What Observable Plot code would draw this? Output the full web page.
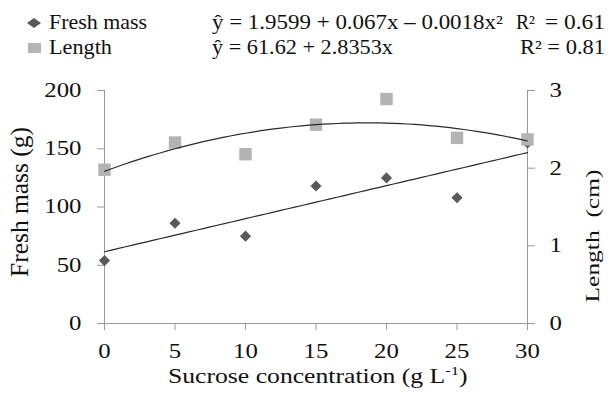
<!DOCTYPE html>
<html>
<head>
<meta charset="utf-8">
<script src="https://cdn.jsdelivr.net/npm/d3@7"></script>
<script src="https://cdn.jsdelivr.net/npm/@observablehq/plot@0.6"></script>
<style>
  html, body { margin: 0; padding: 0; background: #fff; }
  #wrap { position: relative; width: 613px; height: 396px; }
  #legend { position: absolute; left: 0; top: 0; pointer-events: none; }
</style>
</head>
<body>
<div id="wrap"></div>
<script>
// ---- data ----
const concentration = [0, 5, 10, 15, 20, 25, 30];          // g L-1
const freshMass    = [54, 86, 75, 118, 125, 108, 155];      // g  (left axis)
const lengthCm     = [1.98, 2.33, 2.18, 2.56, 2.89, 2.39, 2.37]; // cm (right axis)
const xTicks       = [0, 5, 10, 15, 20, 25, 30];
const leftTicks    = [0, 50, 100, 150, 200];
const rightTicks   = [0, 1, 2, 3];
// trend equations printed in the legend
const linearCoef   = [61.62, 2.8353];            // fresh mass (g)
const quadCoef     = [1.9599, 0.067, -0.0018];   // length (cm)
const legendNames  = ["Fresh mass", "Length"];
const legendEqs    = ["ŷ = 1.9599 + 0.067x – 0.0018x²", "ŷ = 61.62 + 2.8353x"];
const legendR2     = ["0.61", "0.81"];

const FONT = "Liberation Serif";
const cmToG = 200 / 3; // right axis 0..3 cm maps onto left axis 0..200 g

const massRows = concentration.map((c, i) => ({c, v: freshMass[i]}));
const lenRows  = concentration.map((c, i) => ({c, v: lengthCm[i] * cmToG}));
const xs = d3.range(0, 30.001, 0.5);
const linRows  = xs.map(x => ({c: x, v: linearCoef[0] + linearCoef[1] * x}));
const quadRows = xs.map(x => ({c: x, v: (quadCoef[0] + quadCoef[1] * x + quadCoef[2] * x * x) * cmToG}));

const axisGray = "#9a9a9a";
const plot = Plot.plot({
  width: 613, height: 396,
  marginTop: 90, marginBottom: 73, marginLeft: 104, marginRight: 86,
  x: {domain: [0, 30]},
  y: {domain: [0, 200]},
  style: {fontFamily: FONT, fontSize: "20px", color: "#111", background: "#fff"},
  marks: [
    Plot.ruleY([0], {stroke: axisGray}),
    Plot.ruleX([0, 30], {stroke: axisGray}),
    Plot.axisX({ticks: xTicks, tickSize: 7, tickPadding: 13, stroke: axisGray, fill: "#111", label: null, tickFormat: d => String(d)}),
    Plot.axisY({anchor: "left", ticks: leftTicks, tickSize: 7, tickPadding: 16, stroke: axisGray, fill: "#111", label: null, tickFormat: d => String(d)}),
    Plot.axisY({anchor: "right", ticks: rightTicks.map(v => v * cmToG), tickSize: 7, tickPadding: 15, stroke: axisGray, fill: "#111", label: null, tickFormat: v => String(Math.round(v / cmToG))}),
    Plot.dot(massRows, {x: "c", y: "v", symbol: "diamond2", r: 5, fill: "#595959"}),
    Plot.dot(lenRows, {x: "c", y: "v", symbol: "square", r: 7, fill: "#b3b3b3"}),
    Plot.line(quadRows, {x: "c", y: "v", stroke: "#2a2a2a", strokeWidth: 1.2}),
    Plot.line(linRows, {x: "c", y: "v", stroke: "#2a2a2a", strokeWidth: 1.2})
  ]
});
document.getElementById("wrap").appendChild(plot);

// horizontal stretch of a text element about its anchor point, to a target width
function stretchTo(el, target) {
  const natural = el.getComputedTextLength();
  if (!natural || !isFinite(natural)) return;
  const s = target / natural;
  let x = parseFloat(el.getAttribute("x"));
  if (!isFinite(x) || /em/.test(el.getAttribute("x") || "")) x = 0;
  const tr = el.getAttribute("transform") || "";
  el.setAttribute("transform", `${tr} translate(${x},0) scale(${s.toFixed(3)},1) translate(${-x},0)`.trim());
}

const svg = d3.select(plot);
svg.selectAll("g[aria-label$='tick label'] text").each(function() {
  stretchTo(this, this.textContent.length * 12.4);
});

// axis titles
const yl = svg.append("text")
  .attr("transform", "translate(28,202) rotate(-90)")
  .attr("text-anchor", "middle").attr("font-family", FONT).attr("font-size", 25).attr("fill", "#111")
  .text("Fresh mass (g)");
stretchTo(yl.node(), 150);
const yr = svg.append("text")
  .attr("transform", "translate(599,236) rotate(-90)")
  .attr("text-anchor", "middle").attr("font-family", FONT).attr("font-size", 18).attr("fill", "#111")
  .text("Length\u00A0\u00A0(cm)");
stretchTo(yr.node(), 133);
const xt = svg.append("text")
  .attr("x", 168).attr("y", 383).attr("text-anchor", "start")
  .attr("font-family", FONT).attr("font-size", 20).attr("fill", "#111");
xt.append("tspan").text("Sucrose concentration (g L");
xt.append("tspan").attr("font-size", 13).attr("dy", -8).text("-1");
xt.append("tspan").attr("dy", 8).text(")");
stretchTo(xt.node(), 300);

// legend above the plot area
const leg = d3.select("#wrap").append("svg")
  .attr("id", "legend").attr("width", 613).attr("height", 70)
  .attr("font-family", FONT);
leg.append("path").attr("d", "M34,18 L41,23 L34,28 L27,23 Z").attr("fill", "#595959");
leg.append("rect").attr("x", 28).attr("y", 43).attr("width", 13).attr("height", 10).attr("fill", "#b3b3b3");
const nameLen = [98, 63];
const eqLen = [291, 181];
[29.5, 54.5].forEach((by, i) => {
  const n = leg.append("text").attr("x", 49).attr("y", by).attr("font-size", 20).attr("fill", "#111").text(legendNames[i]);
  stretchTo(n.node(), nameLen[i]);
  const e = leg.append("text").attr("x", 212).attr("y", by).attr("font-size", 20).attr("fill", "#111").text(legendEqs[i]);
  stretchTo(e.node(), eqLen[i]);
});
const r1 = leg.append("text").attr("x", 516).attr("y", 29.5).attr("font-size", 20).attr("fill", "#111").text("R²");
stretchTo(r1.node(), 19);
const r1v = leg.append("text").attr("x", 605).attr("y", 29.5).attr("font-size", 20).attr("fill", "#111")
  .attr("text-anchor", "end").text("= " + legendR2[0]);
stretchTo(r1v.node(), 60);
const r2 = leg.append("text").attr("x", 605).attr("y", 54.5).attr("font-size", 20).attr("fill", "#111")
  .attr("text-anchor", "end").text("R² = " + legendR2[1]);
stretchTo(r2.node(), 85);
</script>
</body>
</html>
